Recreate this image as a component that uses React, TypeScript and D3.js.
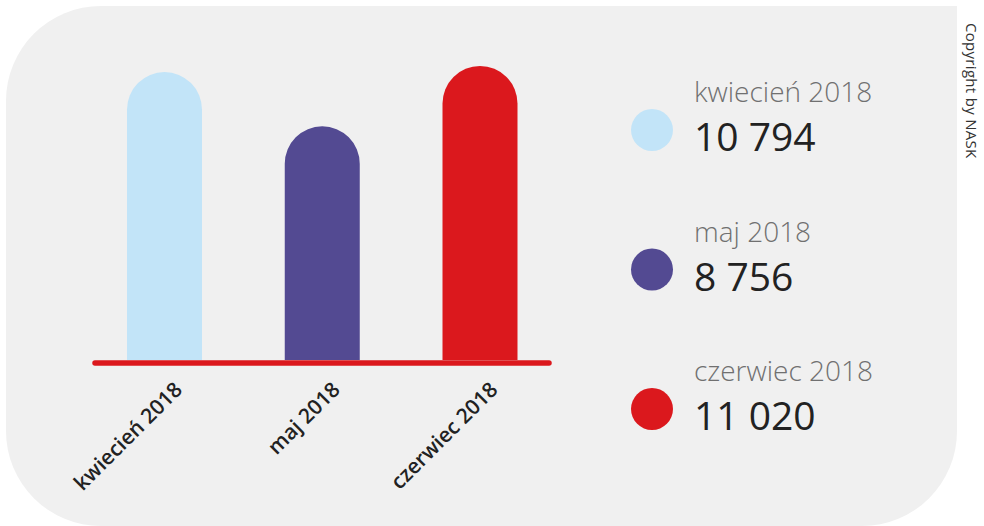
import React from "react";
import * as d3 from "d3";

const categories = ["kwiecień 2018", "maj 2018", "czerwiec 2018"];
const values = [10794, 8756, 11020];
const valueLabels = ["10 794", "8 756", "11 020"];
const colors = ["#c2e4f8", "#534a92", "#db181d"];

const W = 984;
const H = 526;

function roundedTopBar(x: number, y: number, w: number, h: number) {
  const r = Math.min(w / 2, h);
  const p = d3.path();
  p.moveTo(x, y + h);
  p.lineTo(x, y + r);
  p.arc(x + w / 2, y + r, w / 2, Math.PI, 0, false);
  p.lineTo(x + w, y + h);
  p.closePath();
  return p.toString();
}

function bgPath(x0: number, y0: number, x1: number, y1: number, r: number) {
  const p = d3.path();
  p.moveTo(x0 + r, y0);
  p.lineTo(x1, y0);
  p.lineTo(x1, y1 - r);
  p.arcTo(x1, y1, x1 - r, y1, r);
  p.lineTo(x0 + r, y1);
  p.arcTo(x0, y1, x0, y1 - r, r);
  p.lineTo(x0, y0 + r);
  p.arcTo(x0, y0, x0 + r, y0, r);
  p.closePath();
  return p.toString();
}

export default function App() {
  const x = d3.scalePoint<string>().domain(categories).range([164.5, 480]);
  const y = d3.scaleLinear().domain([0, 11020]).range([360, 66]);
  const barW = 75;
  const legendY = d3.scalePoint<string>().domain(categories).range([130, 409]);
  const font = "'Open Sans', 'Noto Sans', sans-serif";

  return (
    <svg
      width={W}
      height={H}
      style={{ position: "fixed", left: 0, top: 0, background: "#ffffff" }}
    >
      <path d={bgPath(6, 6, 957, 526, 95)} fill="#f0f0f0" />
      {categories.map((c, i) => (
        <path
          key={c}
          d={roundedTopBar(x(c)! - barW / 2, y(values[i]), barW, y(0) - y(values[i]))}
          fill={colors[i]}
        />
      ))}
      <line
        x1={95}
        x2={549}
        y1={y(0) + 3}
        y2={y(0) + 3}
        stroke="#db181d"
        strokeWidth={5.5}
        strokeLinecap="round"
      />
      {categories.map((c) => (
        <text
          key={c}
          transform={`translate(${x(c)! + 19},${y(0) + 31}) rotate(-45)`}
          textAnchor="end"
          fontFamily={font}
          fontWeight={600}
          fontSize={21}
          fill="#222222"
        >
          {c}
        </text>
      ))}
      {categories.map((c, i) => (
        <g key={c} transform={`translate(0,${legendY(c)})`}>
          <circle cx={652} cy={0} r={21} fill={colors[i]} />
          <text
            x={694}
            y={-28}
            fontFamily={font}
            fontWeight={300}
            fontSize={28}
            fill="#707070"
          >
            {c}
          </text>
          <text
            x={694}
            y={21}
            fontFamily={font}
            fontWeight={400}
            fontSize={39}
            fill="#222222"
          >
            {valueLabels[i]}
          </text>
        </g>
      ))}
      <text
        transform="translate(966,23) rotate(90)"
        fontFamily={font}
        fontWeight={400}
        fontSize={15}
        letterSpacing={0.3}
        fill="#333333"
      >
        Copyright by NASK
      </text>
    </svg>
  );
}
